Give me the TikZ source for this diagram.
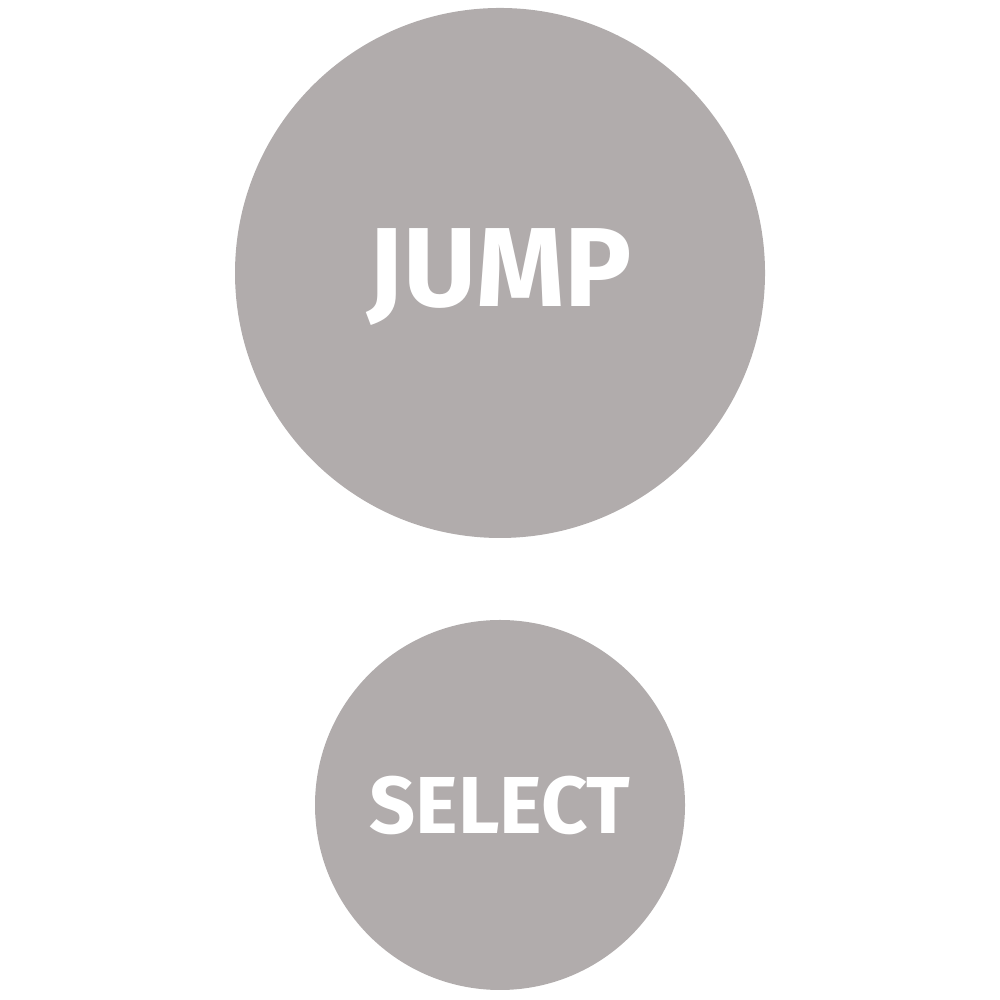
\documentclass[tikz,border=0pt]{standalone}
\usepackage{fontspec}
\setmainfont{Fira Sans}
\usepackage{tikz}
\definecolor{btngrey}{HTML}{B1ACAC}
\tikzset{button/.style={circle, fill=btngrey, inner sep=0pt, text=white, font=\bfseries}}

\begin{document}
\begin{tikzpicture}
\useasboundingbox (0,0) rectangle (10,10);
\node[button, minimum size=5.3cm] (jump) at (5,7.27) {};
\path (jump.center) ++(0,-0.04) node[text=white, font=\bfseries\fontsize{32}{32}\selectfont] (jumptext) {JUMP};
\node[button, minimum size=3.7cm] (select) at (5,1.95) {};
\path (select.center) node[text=white, font=\bfseries\fontsize{23}{23}\selectfont] (selecttext) {SELECT};
\end{tikzpicture}
\end{document}
